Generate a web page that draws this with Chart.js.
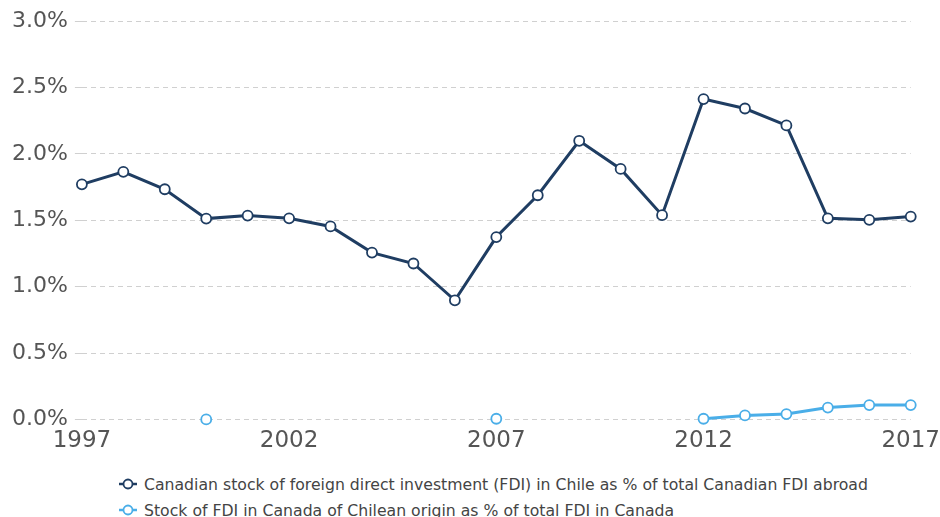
<!DOCTYPE html>
<html>
<head>
<meta charset="utf-8">
<script src="https://cdn.jsdelivr.net/npm/chart.js@4/dist/chart.umd.min.js"></script>
<style>
  html, body { margin: 0; padding: 0; background: #fff; }
  #wrap { position: relative; width: 940px; height: 460px; }
  #legend { position: absolute; left: 118px; top: 471px; font-family: "DejaVu Sans", Verdana, sans-serif; font-size: 15.7px; color: #444; }
  .item { height: 26px; display: flex; align-items: center; white-space: nowrap; }
  .item svg { margin-right: 6px; }
</style>
</head>
<body>
<div id="wrap"><canvas id="c" width="940" height="460"></canvas></div>
<div id="legend"></div>
<script>
const years = [1997,1998,1999,2000,2001,2002,2003,2004,2005,2006,2007,2008,2009,2010,2011,2012,2013,2014,2015,2016,2017];
const canadaInChile = [1.77,1.864,1.733,1.512,1.535,1.514,1.453,1.256,1.174,0.897,1.373,1.688,2.098,1.886,1.538,2.412,2.341,2.214,1.514,1.503,1.527];
const chileInCanada = [null,null,null,0.0,null,null,null,null,null,null,0.005,null,null,null,null,0.005,0.03,0.04,0.089,0.108,0.108];
const seriesNames = [
  "Canadian stock of foreign direct investment (FDI) in Chile as % of total Canadian FDI abroad",
  "Stock of FDI in Canada of Chilean origin as % of total FDI in Canada"
];
const seriesColors = ["#1f3d62", "#4aaee8"];
const yTicks = [0, 0.5, 1.0, 1.5, 2.0, 2.5, 3.0];

function pts(vals) { return years.map((y, i) => ({ x: y, y: vals[i] })); }

const xFont = { family: "'DejaVu Sans', Verdana, sans-serif", size: 23 };
const yFont = { family: "'DejaVu Sans', Verdana, sans-serif", size: 22 };

new Chart(document.getElementById('c'), {
  type: 'line',
  data: {
    datasets: [
      { label: seriesNames[0], data: pts(canadaInChile), borderColor: seriesColors[0], backgroundColor: '#fff', clip: false,
        borderWidth: 3, pointRadius: 5, pointHoverRadius: 5, pointBorderWidth: 1.8, pointBackgroundColor: '#fff', pointBorderColor: seriesColors[0], spanGaps: false },
      { label: seriesNames[1], data: pts(chileInCanada), borderColor: seriesColors[1], backgroundColor: '#fff', clip: false,
        borderWidth: 3, pointRadius: 5, pointHoverRadius: 5, pointBorderWidth: 1.8, pointBackgroundColor: '#fff', pointBorderColor: seriesColors[1], spanGaps: false }
    ]
  },
  options: {
    responsive: false,
    animation: false,
    layout: { padding: { left: 5, top: 21, right: 0, bottom: 5 } },
    plugins: { legend: { display: false }, tooltip: { enabled: false } },
    scales: {
      x: {
        type: 'linear', min: 1997, max: 2017,
        grid: { display: false },
        border: { display: false },
        ticks: { stepSize: 5, color: '#555', font: xFont, padding: 0, maxRotation: 0,
          callback: v => String(v) }
      },
      y: {
        min: 0, max: 3,
        border: { display: false, dash: [5, 4] },
        grid: { color: '#d0d0d0', lineWidth: 1, drawTicks: true, tickLength: 7 },
        afterBuildTicks: axis => { axis.ticks = yTicks.map(v => ({ value: v })); },
        ticks: { color: '#555', font: yFont, padding: 7,
          callback: v => Number(v).toFixed(1) + '%' }
      }
    }
  }
});

const lg = document.getElementById('legend');
seriesNames.forEach((n, i) => {
  const d = document.createElement('div');
  d.className = 'item';
  d.innerHTML = '<svg width="20" height="12"><line x1="1" y1="6" x2="19" y2="6" stroke="' + seriesColors[i] + '" stroke-width="2.5"/><circle cx="10" cy="6" r="4.5" fill="#fff" stroke="' + seriesColors[i] + '" stroke-width="1.8"/></svg><span>' + n + '</span>';
  lg.appendChild(d);
});
</script>
</body>
</html>
